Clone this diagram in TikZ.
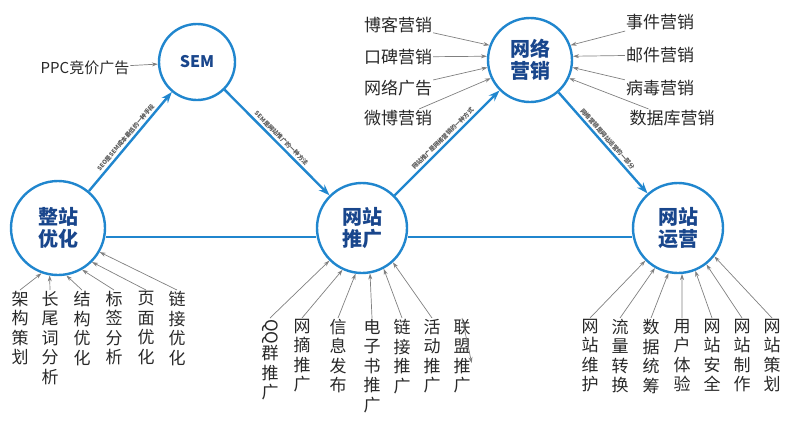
\documentclass[tikz,border=0pt]{standalone}
\usepackage{fontspec}
\setmainfont{Noto Sans CJK SC}
\usetikzlibrary{arrows.meta}
\definecolor{hub}{RGB}{32,134,206}
\definecolor{hubtext}{RGB}{25,70,140}
\definecolor{leaf}{RGB}{40,40,40}
\tikzset{
  hubnode/.style = {circle, draw=hub, line width=2.4pt, fill=white, minimum size=#1,
    text=hubtext, font=\fontsize{20}{22}\selectfont\bfseries, align=center, inner sep=0pt},
  leafnode/.style = {text=leaf, font=\fontsize{17}{19}\selectfont, inner sep=1pt},
  vleaf/.style = {leafnode, align=center, anchor=north, font=\fontsize{17}{19.5}\selectfont},
  feed/.style = {-{Stealth[length=6pt,width=4pt]}, draw=gray, line width=0.7pt},
  flow/.style = {-{Stealth[length=11pt,width=8pt]}, draw=hub, line width=2.4pt},
  note/.style = {font=\fontsize{6}{7}\selectfont\bfseries, text=gray!70!black, sloped, above, inner sep=2pt}
}
\begin{document}
\begin{tikzpicture}[x=1pt,y=-1pt]
\useasboundingbox (0,0) rectangle (802,434);

\node[hubnode=94pt] (zz) at (58,228) {整站\\优化};
\node[hubnode=76pt, font=\fontsize{16}{18}\selectfont\bfseries] (sem) at (197,62) {SEM};
\node[hubnode=90pt] (tg) at (362,228) {网站\\推广};
\node[hubnode=84pt] (yx) at (530,60) {网络\\营销};
\node[hubnode=90pt] (yy) at (678,228) {网站\\运营};

% main flow
\draw[flow] (zz) -- node[note] {SEO是SEM成本最低的一种手段} (sem);
\draw[flow] (sem) -- node[note] {SEM是网站推广的一种方法} (tg);
\draw[flow] (tg) -- node[note] {网站推广是网络营销的一种方式} (yx);
\draw[flow] (yx) -- node[note] {网络营销是网站运营的一部分} (yy);
\draw[hub, line width=2pt] (zz.east |- 0,237) -- (tg.west |- 0,237);
\draw[hub, line width=2pt] (tg.east |- 0,237) -- (yy.west |- 0,237);

% SEM
\node[leafnode, font=\fontsize{15}{17}\selectfont] (ppc) at (85,68) {PPC竞价广告};
\draw[feed] (ppc) -- (sem);

% 网络营销
\node[leafnode] (bk) at (398,25) {博客营销};
\node[leafnode] (kb) at (398,57) {口碑营销};
\node[leafnode] (gg) at (398,88) {网络广告};
\node[leafnode] (wb) at (398,118) {微博营销};
\node[leafnode] (sj) at (660,22) {事件营销};
\node[leafnode] (yj) at (660,55) {邮件营销};
\node[leafnode] (bd) at (660,88) {病毒营销};
\node[leafnode] (sjk) at (672,118) {数据库营销};
\draw[feed] (bk) -- (yx.160);
\draw[feed] (kb) -- (yx.175);
\draw[feed] (gg) -- (yx.190);
\draw[feed] (wb) -- (yx.205);
\draw[feed] (sj) -- (yx.20);
\draw[feed] (yj) -- (yx.5);
\draw[feed] (bd) -- (yx.-10);
\draw[feed] (sjk) -- (yx.-25);

% 整站优化
\foreach \n/\x/\t/\a in {a/20/架\\构\\策\\划/250, b/50/长\\尾\\词\\分\\析/260,
  c/82/结\\构\\优\\化/280, d/114/标\\签\\分\\析/300, e/146/页\\面\\优\\化/315, f/177/链\\接\\优\\化/330}{
  \node[vleaf] (z\n) at (\x,290) {\t};
  \draw[feed] (z\n.north) -- (zz.\a);
}

% 网站推广
\foreach \n/\x/\t/\a in {a/270/\rotatebox{-90}{QQ}\\群\\推\\广/225, b/302/网\\摘\\推\\广/245,
  c/338/信\\息\\发\\布/262, d/372/电\\子\\书\\推\\广/280, e/402/链\\接\\推\\广/298,
  f/432/活\\动\\推\\广/312, g/462/联\\盟\\推\\广/325}{
  \node[vleaf] (t\n) at (\x,318) {\t};
  \draw[feed] (t\n.north) -- (tg.\a);
}

% 网站运营
\foreach \n/\x/\t/\a in {a/590/网\\站\\维\\护/225, b/620/流\\量\\转\\换/240,
  c/651/数\\据\\统\\筹/258, d/682/用\\户\\体\\验/275, e/712/网\\站\\安\\全/292,
  f/742/网\\站\\制\\作/308, g/772/网\\站\\策\\划/322}{
  \node[vleaf] (y\n) at (\x,318) {\t};
  \draw[feed] (y\n.north) -- (yy.\a);
}
\end{tikzpicture}
\end{document}
